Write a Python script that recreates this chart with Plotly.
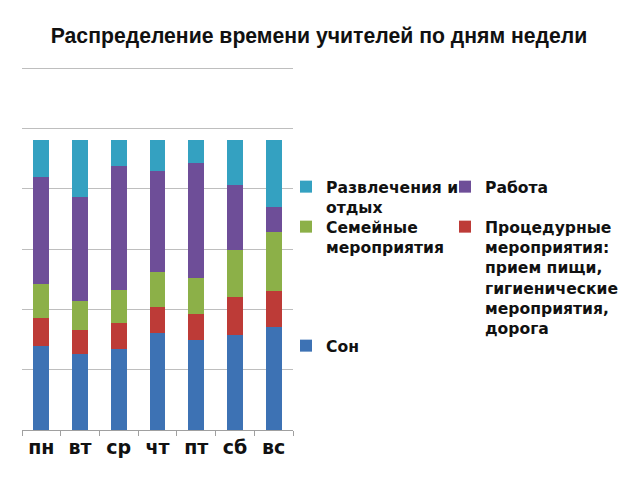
import plotly.graph_objects as go

days = ["пн", "вт", "ср", "чт", "пт", "сб", "вс"]
son = [7.0, 6.3, 6.7, 8.0, 7.5, 7.9, 8.5]
procedury = [2.3, 2.0, 2.2, 2.2, 2.1, 3.1, 3.0]
semeynye = [2.8, 2.4, 2.7, 2.9, 3.0, 3.9, 4.9]
rabota = [8.9, 8.6, 10.3, 8.4, 9.5, 5.4, 2.1]
razvlecheniya = [3.0, 4.7, 2.1, 2.5, 1.9, 3.7, 5.5]

# page has an 8px body margin; compensate
FW, FH = 632, 472
L, T, B = 14, 57, 50
W = 400
R = FW - L - W
H = FH - T - B
OFF = 8


def px_x(xp):
    return (xp - OFF - L) / W


def px_y(yp):
    return (FH - B - (yp - OFF)) / H


# name, values, colour, legend id, legend text x (page px), legend first-line centre y (page px)
series = [
    ("Сон", son, "#3D72B4", "legend5", 325, 346),
    ("Процедурные<br>мероприятия:<br>прием пищи,<br>гигиенические<br>мероприятия,<br>дорога", procedury, "#BD3B37", "legend4", 484, 227),
    ("Семейные<br>мероприятия", semeynye, "#8CB048", "legend3", 325, 227),
    ("Работа", rabota, "#6E4E98", "legend2", 484, 187),
    ("Развлечения и<br>отдых", razvlecheniya, "#34A1C1", "legend", 325, 187),
]

fig = go.Figure()
legend_layouts = {}
for name, vals, color, lg, tx, ty in series:
    fig.add_trace(go.Bar(x=days, y=vals, name=name, legend=lg,
                         marker=dict(color=color, line=dict(width=0))))
    legend_layouts[lg] = dict(
        orientation="v", x=px_x(tx - 39), y=px_y(ty - 17), xanchor="left", yanchor="top",
        font=dict(family="DejaVu Sans", size=15.6, color="#111111", weight="bold"),
        bgcolor="rgba(0,0,0,0)", valign="top",
    )

fig.update_layout(
    width=FW, height=FH,
    barmode="stack", bargap=0.59,
    paper_bgcolor="white", plot_bgcolor="white",
    margin=dict(l=L, r=R, t=T, b=B, autoexpand=False),
    title=dict(text="Распределение времени учителей по дням недели",
               x=(319 - OFF) / FW, xanchor="center", y=1 - 28 / FH, yanchor="middle", xref="container",
               font=dict(family="Liberation Sans", size=21.2, color="#111111", weight="bold")),
    showlegend=True,
    **legend_layouts,
)
fig.update_xaxes(domain=[0, 271 / W], showline=True, linecolor="#A0A0A0", linewidth=1, ticks="outside",
                 tickson="boundaries", ticklen=5, tickcolor="#A0A0A0",
                 tickfont=dict(family="DejaVu Sans", size=19, color="#111111", weight="bold"))
fig.update_yaxes(range=[0, 30.25], dtick=5, showticklabels=False, showgrid=True,
                 gridcolor="#BEBEBE", gridwidth=1, zeroline=False, showline=False)

fig.write_html("out.html")
